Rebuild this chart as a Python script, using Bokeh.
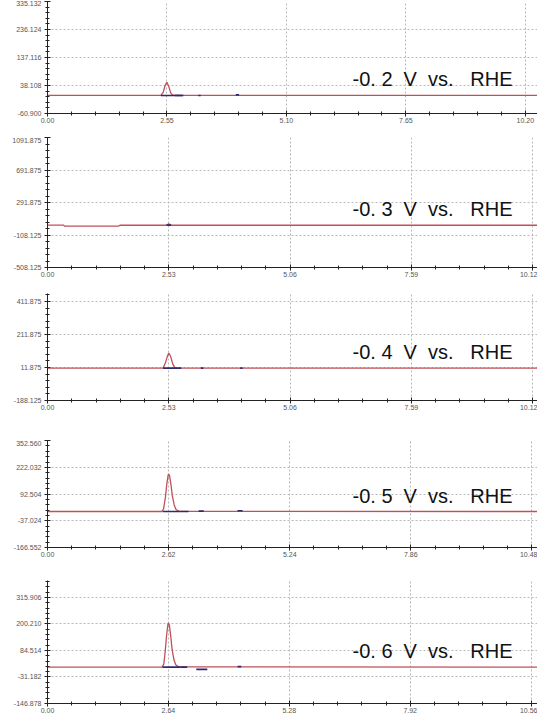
from bokeh.plotting import figure
from bokeh.layouts import column
from bokeh.models import Range1d, FixedTicker, Label, PrintfTickFormatter
from bokeh.embed import file_html
from bokeh.resources import INLINE

# ---- chromatogram data (retention time in min, detector signal) ----
# no-break spaces keep the wide word gaps (SVG collapses plain runs of spaces)
NB = "\u00a0"
labels = [f"-0. {v}{NB} V{NB} vs.{NB}{NB} RHE" for v in ("2", "3", "4", "5", "6")]

# signal traces
t_02 = [0.00, 2.42, 2.47, 2.51, 2.55, 2.59, 2.63, 2.68, 11.0]
s_02 = [3, 3, 14, 38, 50, 34, 12, 3, 3]

t_03 = [0.00, 0.33, 0.36, 1.48, 1.51, 2.47, 2.50, 2.53, 2.56, 2.59, 11.0]
s_03 = [14, 14, 0, 0, 12, 12, 20, 28, 20, 12, 12]

t_04 = [0.00, 2.41, 2.46, 2.50, 2.53, 2.57, 2.61, 2.66, 11.0]
s_04 = [8, 8, 40, 80, 100, 78, 35, 8, 8]

t_05 = [0.00, 2.47, 2.51, 2.55, 2.58, 2.61, 2.62, 2.64, 2.67, 2.70, 2.74, 2.78, 2.84, 11.0]
s_05 = [8, 8, 20, 75, 140, 185, 190, 182, 140, 85, 40, 18, 9, 8]

t_06 = [0.00, 2.50, 2.54, 2.57, 2.60, 2.63, 2.64, 2.66, 2.69, 2.72, 2.76, 2.80, 2.86, 11.0]
s_06 = [12, 12, 25, 80, 150, 200, 205, 196, 150, 90, 45, 22, 13, 12]

# integration marks (start, end, level)
m_02_start = [2.42, 2.72, 3.22, 4.02]
m_02_end = [2.88, 2.90, 3.27, 4.09]
m_02_level = [3, 3, 3, 5]

m_03_start = [2.48]
m_03_end = [2.58]
m_03_level = [14]

m_04_start = [2.41, 2.66, 3.20, 4.02]
m_04_end = [2.66, 2.79, 3.25, 4.07]
m_04_level = [8, 8, 8, 8]

m_05_start = [2.49, 2.88, 3.27, 4.11]
m_05_end = [2.88, 3.05, 3.38, 4.22]
m_05_level = [8, 8, 10, 12]

m_06_start = [2.51, 2.90, 3.25, 4.15]
m_06_end = [2.90, 3.05, 3.49, 4.23]
m_06_level = [12, 12, 2, 14]

# axis ticks
x_ticks_02 = [0.00, 2.55, 5.10, 7.65, 10.20]
x_ticks_03 = [0.00, 2.53, 5.06, 7.59, 10.12]
x_ticks_04 = [0.00, 2.53, 5.06, 7.59, 10.12]
x_ticks_05 = [0.00, 2.62, 5.24, 7.86, 10.48]
x_ticks_06 = [0.00, 2.64, 5.28, 7.92, 10.56]

y_ticks_02 = [-60.900, 38.108, 137.116, 236.124, 335.132]
y_ticks_03 = [-508.125, -108.125, 291.875, 691.875, 1091.875]
y_ticks_04 = [-188.125, 11.875, 211.875, 411.875]
y_ticks_05 = [-166.552, -37.024, 92.504, 222.032, 352.560]
y_ticks_06 = [-146.878, -31.182, 84.514, 200.210, 315.906]

TRACE = "#c0505a"
MARK = "#2e2a70"
GRID = "#b8b8b8"


def minors(ticks):
    out = []
    for a, b in zip(ticks[:-1], ticks[1:]):
        step = (b - a) / 5.0
        out += [a + step * k for k in range(1, 5)]
    step = (ticks[-1] - ticks[-2]) / 5.0
    out += [ticks[-1] + step * k for k in range(1, 10)]
    return out


def panel(t, s, ms, me, ml, xt, yt, xend, yhi, text, height, top, bottom):
    p = figure(width=537, height=height,
               x_range=Range1d(0, xend), y_range=Range1d(yt[0], yhi),
               output_backend="svg", toolbar_location=None,
               min_border_left=47, min_border_right=0,
               min_border_top=top, min_border_bottom=bottom)
    p.outline_line_color = None
    p.background_fill_color = "white"
    p.border_fill_color = "white"

    p.xaxis.ticker = FixedTicker(ticks=xt, minor_ticks=minors(xt))
    p.yaxis.ticker = FixedTicker(ticks=yt, minor_ticks=minors(yt))
    p.xaxis.formatter = PrintfTickFormatter(format="%.2f")
    p.yaxis.formatter = PrintfTickFormatter(format="%.3f")

    for ax in (p.xaxis, p.yaxis):
        ax.axis_line_color = "#222222"
        ax.axis_line_width = 1
        ax.major_tick_line_color = "#222222"
        ax.minor_tick_line_color = "#222222"
        ax.major_tick_in = 3
        ax.major_tick_out = 3
        ax.minor_tick_in = 2
        ax.minor_tick_out = 2
        ax.major_label_text_font = "Liberation Sans"
        ax.major_label_text_font_size = "7px"
        ax.major_label_text_color = "#555555"
    p.xaxis.major_label_standoff = 1
    p.yaxis.major_label_standoff = 3

    for g in (p.xgrid, p.ygrid):
        g.grid_line_color = GRID
        g.grid_line_dash = "2 2"
        g.grid_line_width = 1

    p.line(t, s, line_color=TRACE, line_width=1.3)
    p.segment(x0=ms, y0=ml, x1=me, y1=ml, line_color=MARK, line_width=1.6)

    xc = xend * (432 - 47) / 490.0
    p.add_layout(Label(x=xc, y=s[0], y_offset=5, text=text,
                       text_align="center", text_baseline="bottom",
                       text_font="Liberation Sans", text_font_size="20px",
                       text_color="#111111"))
    return p


p1 = panel(t_02, s_02, m_02_start, m_02_end, m_02_level, x_ticks_02, y_ticks_02,
           10.46, 335.132, labels[0], 137, 1, 24)
p2 = panel(t_03, s_03, m_03_start, m_03_end, m_03_level, x_ticks_03, y_ticks_03,
           10.22, 1091.875, labels[1], 150, 0, 20)
p3 = panel(t_04, s_04, m_04_start, m_04_end, m_04_level, x_ticks_04, y_ticks_04,
           10.22, 460.0, labels[2], 153, 6, 40)
p4 = panel(t_05, s_05, m_05_start, m_05_end, m_05_level, x_ticks_05, y_ticks_05,
           10.60, 352.560, labels[3], 132, 0, 25)
p5 = panel(t_06, s_06, m_06_start, m_06_end, m_06_level, x_ticks_06, y_ticks_06,
           10.70, 390.0, labels[4], 143, 8, 12)

layout = column(p1, p2, p3, p4, p5, spacing=0)

open("out.html", "w").write(file_html(layout, INLINE))
